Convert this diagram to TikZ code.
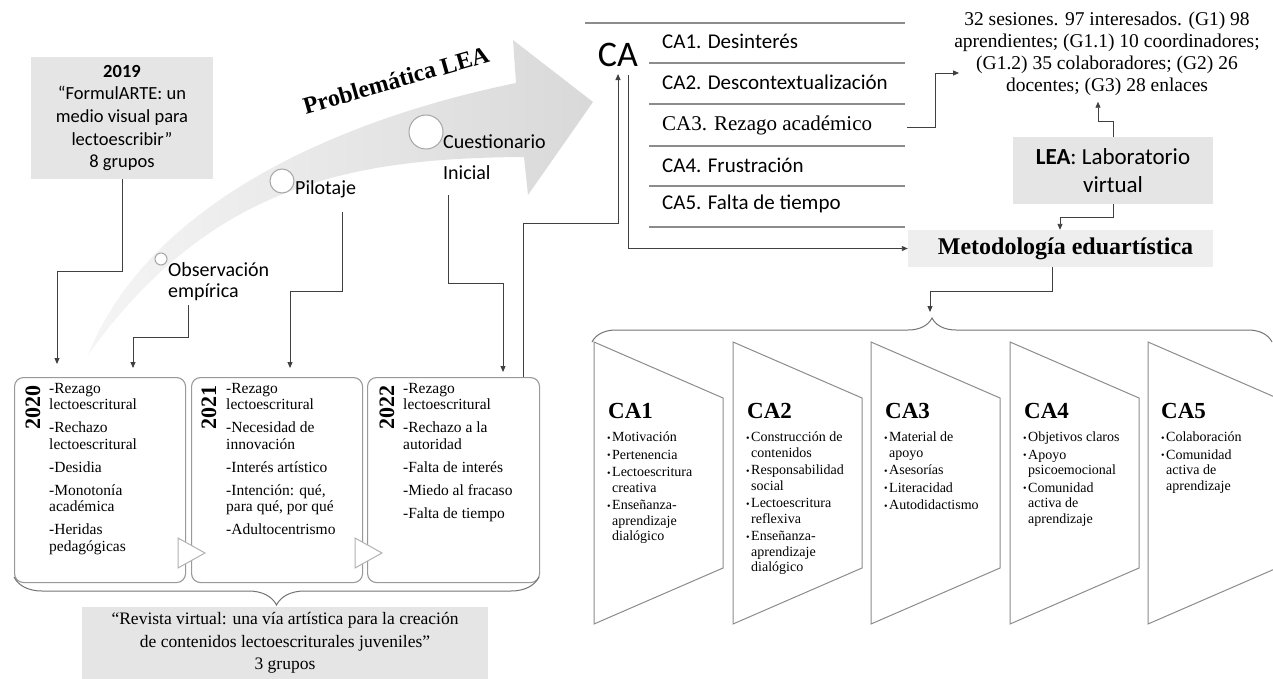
\documentclass[tikz,border=0pt]{standalone}
\usepackage{fontspec}
\setmainfont{Liberation Serif}
\newfontfamily\calfont{Carlito}
\usepackage{tikz}
\usetikzlibrary{positioning, arrows.meta, decorations.pathreplacing}
\definecolor{boxgray}{HTML}{E5E5E5}
\definecolor{metgray}{HTML}{EEEEEE}
\tikzset{E/.style={draw=black!75, line width=0.9pt, -{Triangle[length=6pt,width=5pt]}}}
\tikzset{G/.style={fill=boxgray, draw=none, align=center, inner sep=0pt}}
\tikzset{Year/.style={draw=black!40, fill=white, rounded corners=9pt, line width=1.1pt,
    minimum height=205, anchor=north west}}
\tikzset{YearLbl/.style={rotate=90, anchor=east, inner sep=0pt, font=\bfseries\fontsize{22}{22}\selectfont}}
\tikzset{Items/.style={anchor=north west, align=left, inner sep=0pt, font=\fontsize{15.5}{16.5}\selectfont}}
\tikzset{Panel/.style={draw=black!45, fill=white, line width=1pt}}
\tikzset{PHead/.style={anchor=base west, inner sep=0pt, font=\bfseries\fontsize{23}{23}\selectfont}}
\tikzset{PList/.style={anchor=north west, align=left, inner sep=0pt, font=\fontsize{14}{15.5}\selectfont}}
\tikzset{Rule/.style={draw=black!45, line width=1.1pt}}
\tikzset{CAitem/.style={anchor=base west, inner sep=0pt, font=\calfont\fontsize{21}{21}\selectfont}}
\tikzset{Dot/.style={circle, draw=black!35, fill=white, line width=1pt, inner sep=0pt}}
\tikzset{Lbl/.style={anchor=west, align=left, inner sep=0pt, font=\calfont\fontsize{20}{21}\selectfont}}
\tikzset{Brace/.style={draw=black!55, line width=1pt, decorate, decoration={brace, amplitude=#1}}}
\newcommand{\bul}{\makebox[5pt][l]{\raisebox{0.5pt}{\fontsize{10}{10}\selectfont\textbullet}}}
\newcommand{\ind}{\hspace*{5pt}}

\begin{document}
\begin{tikzpicture}[x=1pt, y=-1pt]
    \useasboundingbox (0,0) rectangle (1273,679);

    %% Problematica arrow
    \shade[left color=gray!8, right color=gray!30]
        (88,355) .. controls (150,200) and (345,118) .. (516,83)
        -- (513,40) -- (593,102) -- (528,195) -- (524,157)
        .. controls (350,158) and (210,185) .. (88,355) -- cycle;
    \node (prob) [rotate=16, inner sep=0pt, font=\bfseries\fontsize{24}{24}\selectfont] at (396,80) {Problemática LEA};

    \node (d1) [Dot, minimum size=12] at (161,259) {};
    \node (d2) [Dot, minimum size=24] at (282,181) {};
    \node (d3) [Dot, minimum size=34] at (426,132) {};
    \node (obs) [Lbl] at (168,281.5) {Observación\\empírica};
    \node (pil) [Lbl] at (295,189) {Pilotaje};
    \node (cue) [Lbl] at (443,157.5) {Cuestionario\\[10pt]Inicial};

    %% 2019
    \node (g2019) [G, minimum width=182, minimum height=122,
        font=\calfont\fontsize{18.5}{22.7}\selectfont] at (122,118)
        {\textbf{2019}\\“FormulARTE: un\\medio visual para\\lectoescribir”\\8 grupos};

    %% Years
    \node (b2020) [Year, minimum width=171] at (14,377) {};
    \node (b2021) [Year, minimum width=171] at (191,377) {};
    \node (b2022) [Year, minimum width=172] at (367,377) {};
    \draw[draw=black!30, fill=white, line width=1pt] (178,538) -- (205,553) -- (178,568) -- cycle;
    \draw[draw=black!30, fill=white, line width=1pt] (355,538) -- (382,553) -- (355,568) -- cycle;

    \node (y2020) [YearLbl] at (33,385) {2020};
    \node (y2021) [YearLbl] at (209,385) {2021};
    \node (y2022) [YearLbl] at (387,385) {2022};

    \node (t2020) [Items] at (49,383) {-Rezago\\lectoescritural\\[6.5pt]-Rechazo\\lectoescritural\\[6.5pt]-Desidia\\[6.5pt]-Monotonía\\académica\\[6.5pt]-Heridas\\pedagógicas};
    \node (t2021) [Items] at (226,383) {-Rezago\\lectoescritural\\[6.5pt]-Necesidad de\\innovación\\[6.5pt]-Interés artístico\\[6.5pt]-Intención: qué,\\para qué, por qué\\[6.5pt]-Adultocentrismo};
    \node (t2022) [Items] at (403,383) {-Rezago\\lectoescritural\\[6.5pt]-Rechazo a la\\autoridad\\[6.5pt]-Falta de interés\\[6.5pt]-Miedo al fracaso\\[6.5pt]-Falta de tiempo};

    \draw[Brace=28] (539,577) -- (14,577);
    \node (revista) [G, minimum width=406, minimum height=72, anchor=north,
        font=\fontsize{17.5}{22.5}\selectfont] at (285,607)
        {“Revista virtual: una vía artística para la creación\\de contenidos lectoescriturales juveniles”\\3 grupos};

    %% CA list
    \node (ca) [inner sep=0pt, font=\calfont\fontsize{36}{36}\selectfont] at (618,55) {CA};
    \draw[Rule] (585,23) -- (905,23);
    \foreach \y in {63,104,146,186,227}
        \draw[Rule] (649,\y) -- (905,\y);
    \node (ca1) [CAitem] at (662,49) {CA1. Desinterés};
    \node (ca2) [CAitem] at (662,90) {CA2. Descontextualización};
    \node (ca3) [CAitem, font=\fontsize{21}{21}\selectfont] at (662,131) {CA3. Rezago académico};
    \node (ca4) [CAitem] at (662,172) {CA4. Frustración};
    \node (ca5) [CAitem] at (662,209) {CA5. Falta de tiempo};

    %% right column
    \node (stats) [align=center, inner sep=0pt, font=\fontsize{19.5}{21.8}\selectfont] at (1107,54)
        {32 sesiones. 97 interesados. (G1) 98\\aprendientes; (G1.1) 10 coordinadores;\\(G1.2) 35 colaboradores; (G2) 26\\docentes; (G3) 28 enlaces};
    \node (lea) [G, minimum width=200, minimum height=67,
        font=\calfont\fontsize{23}{28}\selectfont] at (1113,170.5) {\textbf{LEA}: Laboratorio\\virtual};
    \node (metod) [G, fill=metgray, minimum width=305, minimum height=37,
        font=\bfseries\fontsize{24}{26}\selectfont] at (1060.5,248.5) {\hspace*{10pt}Metodología eduartística};

    %% CA panels
    \draw[Brace=24] (592,342) -- (1272,342);
    \foreach \x in {594,733,871,1010,1148}
        \draw[Panel] (\x,342) -- (\x+129,398) -- (\x+129,568) -- (\x,624) -- cycle;
    \node (h1) [PHead] at (608,418) {CA1};
    \node (h2) [PHead] at (747,418) {CA2};
    \node (h3) [PHead] at (885,418) {CA3};
    \node (h4) [PHead] at (1024,418) {CA4};
    \node (h5) [PHead] at (1161,418) {CA5};
    \node (p1) [PList] at (607,432) {\bul Motivación\\[2pt]\bul Pertenencia\\[2pt]\bul Lectoescritura\\\ind creativa\\[2pt]\bul Enseñanza-\\\ind aprendizaje\\\ind dialógico};
    \node (p2) [PList] at (746,432) {\bul Construcción de\\\ind contenidos\\[2pt]\bul Responsabilidad\\\ind social\\[2pt]\bul Lectoescritura\\\ind reflexiva\\[2pt]\bul Enseñanza-\\\ind aprendizaje\\\ind dialógico};
    \node (p3) [PList] at (884,432) {\bul Material de\\\ind apoyo\\[2pt]\bul Asesorías\\[2pt]\bul Literacidad\\[2pt]\bul Autodidactismo};
    \node (p4) [PList] at (1023,432) {\bul Objetivos claros\\[2pt]\bul Apoyo\\\ind psicoemocional\\[2pt]\bul Comunidad\\\ind activa de\\\ind aprendizaje};
    \node (p5) [PList] at (1161,432) {\bul Colaboración\\[2pt]\bul Comunidad\\\ind activa de\\\ind aprendizaje};

    %% connectors
    \coordinate (k1) at (57,271);
    \coordinate (k2a) at (188,305);
    \coordinate (k2) at (133,337);
    \coordinate (k3a) at (342,212);
    \coordinate (k3) at (290,291);
    \coordinate (k4a) at (448,195);
    \coordinate (k4) at (503,283);
    \coordinate (k5) at (523,223);
    \coordinate (k6) at (628,75);
    \coordinate (k7) at (907,127);
    \coordinate (k8) at (1098,121);
    \coordinate (k9) at (1060,217);
    \coordinate (k10) at (930,291);
    \coordinate (bt) at (932,318);

    \draw[E, shorten >=13pt] (g2019.south) |- (k1) -- (k1 |- b2020.north);
    \draw[E, shorten >=9pt] (k2a) |- (k2) -- (k2 |- b2020.north);
    \draw[E, shorten >=9pt] (k3a) |- (k3) -- (k3 |- b2021.north);
    \draw[E, shorten >=5pt] (k4a) |- (k4) -- (k4 |- b2022.north);
    \draw[E, shorten >=7pt] (k5 |- b2022.north) -- (k5) -| (ca.south);
    \draw[E] (k6) |- (metod.west);
    \draw[E] (k7) -- ++(28,0) |- ([xshift=5pt, yshift=-19pt]stats.west);
    \draw[E, shorten >=6pt] (lea.north) |- (k8) -- (k8 |- stats.south);
    \draw[E] (lea.south) |- (k9) -- (k9 |- metod.north);
    \draw[E, shorten >=6pt] ([xshift=-8pt]metod.south) |- (k10) -- (k10 |- bt);

\end{tikzpicture}
\end{document}
